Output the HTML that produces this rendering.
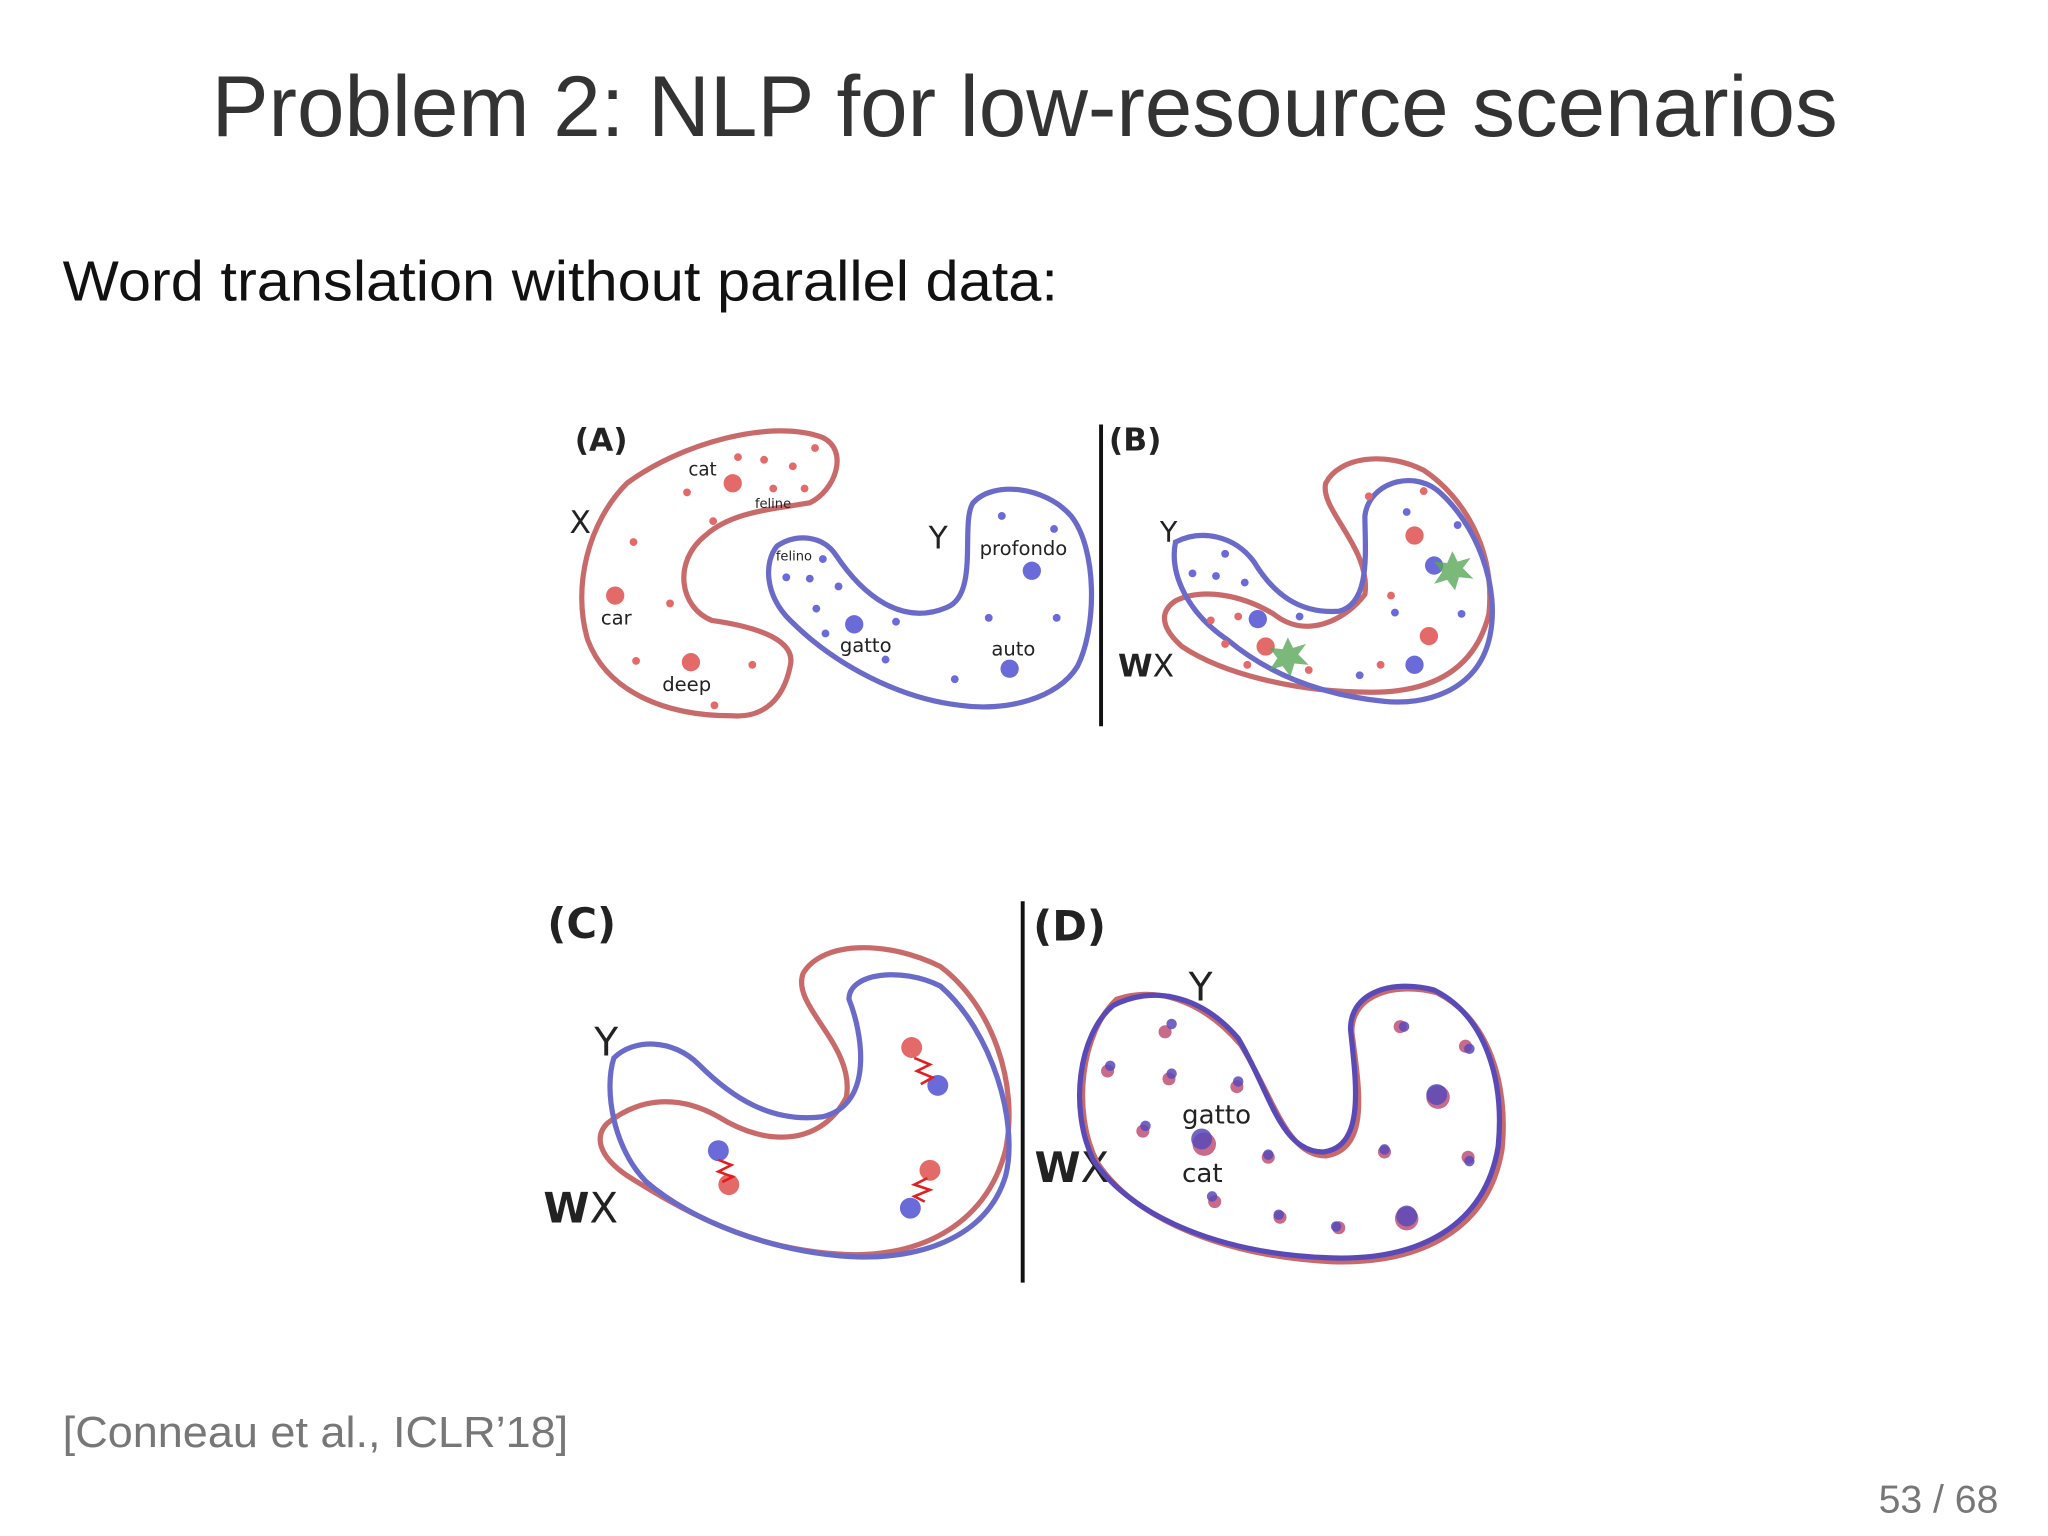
<!DOCTYPE html>
<html><head><meta charset="utf-8"><style>
html,body{margin:0;padding:0;background:#fff;}
svg{display:block}
</style></head><body>
<svg width="2048" height="1536" viewBox="0 0 1568 1176" xmlns="http://www.w3.org/2000/svg" font-family="Liberation Sans, DejaVu Sans, sans-serif">
<rect width="1568" height="1176" fill="#fff"/>
<text x="162" y="104" font-size="66" fill="#333" textLength="1245" lengthAdjust="spacingAndGlyphs">Problem 2: NLP for low-resource scenarios</text>
<text x="48" y="230" font-size="43" fill="#111" textLength="762" lengthAdjust="spacingAndGlyphs">Word translation without parallel data:</text>
<text x="48" y="1108" font-size="33" fill="#777" textLength="387" lengthAdjust="spacingAndGlyphs">[Conneau et al., ICLR’18]</text>
<text x="1530" y="1158" text-anchor="end" font-size="30" fill="#777">53 / 68</text>

<g font-family="DejaVu Sans, sans-serif" fill="#222">
<!-- Panel A -->
<text x="440" y="345" font-size="24" font-weight="bold">(A)</text>
<text x="436" y="408" font-size="24">X</text>
<path d="M480,370 C520,340 590,320 630,335 C650,345 640,375 620,385 C590,390 560,392 540,410 C515,430 520,465 545,475 C580,480 610,490 605,510 C600,535 585,550 560,548 C510,548 465,530 450,490 C438,450 450,400 480,370 Z" fill="none" stroke="#c86a6a" stroke-width="4"/>
<path d="M595,418 C610,408 630,410 640,425 C660,455 690,480 725,465 C750,455 735,400 745,385 C760,368 800,372 820,395 C840,420 840,480 825,510 C810,535 770,545 735,540 C690,535 640,510 605,475 C585,455 585,430 595,418 Z" fill="none" stroke="#6a6ac8" stroke-width="4"/>
<g fill="#e46a6a">
<circle cx="561" cy="370" r="7"/><circle cx="471" cy="456" r="7"/><circle cx="529" cy="507" r="7"/>
<circle cx="565" cy="350" r="3"/><circle cx="585" cy="352" r="3"/><circle cx="607" cy="357" r="3"/><circle cx="624" cy="343" r="3"/><circle cx="592" cy="374" r="3"/><circle cx="616" cy="374" r="3"/><circle cx="526" cy="377" r="3"/><circle cx="546" cy="399" r="3"/><circle cx="485" cy="415" r="3"/><circle cx="513" cy="462" r="3"/><circle cx="487" cy="506" r="3"/><circle cx="576" cy="509" r="3"/><circle cx="547" cy="540" r="3"/>
</g>
<g fill="#6a6ad8">
<circle cx="790" cy="437" r="7"/><circle cx="654" cy="478" r="7"/><circle cx="773" cy="512" r="7"/>
<circle cx="767" cy="395" r="3"/><circle cx="807" cy="405" r="3"/><circle cx="630" cy="428" r="3"/><circle cx="602" cy="442" r="3"/><circle cx="620" cy="443" r="3"/><circle cx="642" cy="449" r="3"/><circle cx="625" cy="466" r="3"/><circle cx="686" cy="476" r="3"/><circle cx="632" cy="485" r="3"/><circle cx="757" cy="473" r="3"/><circle cx="809" cy="473" r="3"/><circle cx="678" cy="505" r="3"/><circle cx="731" cy="520" r="3"/>
</g>
<text x="527" y="364" font-size="14">cat</text><text x="578" y="389" font-size="10">feline</text>
<text x="460" y="478" font-size="15">car</text><text x="507" y="529" font-size="15">deep</text>
<text x="594" y="429" font-size="10">felino</text><text x="711" y="420" font-size="24">Y</text>
<text x="750" y="425" font-size="15">profondo</text><text x="643" y="499" font-size="15">gatto</text><text x="759" y="502" font-size="15">auto</text>
<line x1="843" y1="325" x2="843" y2="556" stroke="#111" stroke-width="3"/>

<!-- Panel B -->
<text x="849" y="345" font-size="24" font-weight="bold">(B)</text>
<text x="888" y="415" font-size="22">Y</text>
<text x="856" y="518" font-size="24"><tspan font-weight="bold">W</tspan>X</text>
<path d="M900,460 C920,450 950,455 975,470 C1000,490 1030,475 1045,455 C1050,420 1010,390 1015,370 C1025,350 1060,345 1090,360 C1120,380 1145,420 1140,470 C1130,510 1100,530 1050,530 C990,530 935,515 905,495 C888,480 888,468 900,460 Z" fill="none" stroke="#c86a6a" stroke-width="4"/>
<path d="M900,415 C920,405 945,410 960,430 C975,455 995,470 1025,468 C1050,462 1045,420 1045,395 C1048,370 1080,360 1100,375 C1130,400 1150,450 1140,490 C1130,530 1090,540 1060,537 C1010,532 970,515 940,490 C910,470 895,440 900,415 Z" fill="none" stroke="#6a6ac8" stroke-width="4"/>
<g fill="#e46a6a"><circle cx="1083" cy="410" r="7"/><circle cx="1094" cy="487" r="7"/><circle cx="969" cy="495" r="7"/>
<circle cx="1048" cy="380" r="3"/><circle cx="1090" cy="376" r="3"/><circle cx="1065" cy="456" r="3"/><circle cx="927" cy="475" r="3"/><circle cx="948" cy="472" r="3"/><circle cx="938" cy="493" r="3"/><circle cx="955" cy="509" r="3"/><circle cx="1057" cy="509" r="3"/><circle cx="1002" cy="513" r="3"/></g>
<g fill="#6a6ad8"><circle cx="963" cy="474" r="7"/><circle cx="1098" cy="433" r="7"/><circle cx="1083" cy="509" r="7"/>
<circle cx="1077" cy="392" r="3"/><circle cx="1116" cy="402" r="3"/><circle cx="938" cy="424" r="3"/><circle cx="913" cy="439" r="3"/><circle cx="931" cy="441" r="3"/><circle cx="953" cy="446" r="3"/><circle cx="1068" cy="469" r="3"/><circle cx="1119" cy="470" r="3"/><circle cx="1041" cy="517" r="3"/><circle cx="995" cy="472" r="3"/></g>
<polygon points="1112,422 1116,430 1126,427 1120,435 1128,443 1117,442 1114,452 1108,444 1098,447 1104,438 1098,430 1108,431" fill="#5aa85a" opacity="0.8"/>
<polygon points="986,488 990,496 1000,493 994,501 1002,509 991,508 988,518 982,510 972,513 978,504 972,496 982,497" fill="#5aa85a" opacity="0.8"/>

<!-- Panel C -->
<text x="419" y="718" font-size="32" font-weight="bold">(C)</text>
<text x="455" y="808" font-size="30">Y</text>
<text x="416" y="936" font-size="32"><tspan font-weight="bold">W</tspan>X</text>
<path d="M465,860 C490,840 520,838 550,855 C590,880 630,875 648,840 C655,800 605,770 615,745 C630,720 680,720 720,740 C760,770 780,830 770,880 C755,940 700,965 640,960 C570,955 520,925 480,900 C458,885 455,870 465,860 Z" fill="none" stroke="#c86a6a" stroke-width="4"/>
<path d="M470,810 C485,795 515,795 535,815 C560,840 590,860 630,855 C670,845 660,790 650,765 C650,745 690,740 720,755 C760,790 780,860 770,900 C755,950 700,965 650,962 C590,958 530,935 495,905 C470,880 462,835 470,810 Z" fill="none" stroke="#6a6ac8" stroke-width="4"/>
<circle cx="698" cy="802" r="8" fill="#e46a6a"/><circle cx="718" cy="831" r="8" fill="#6a6ad8"/>
<circle cx="550" cy="881" r="8" fill="#6a6ad8"/><circle cx="558" cy="907" r="8" fill="#e46a6a"/>
<circle cx="712" cy="896" r="8" fill="#e46a6a"/><circle cx="697" cy="925" r="8" fill="#6a6ad8"/>
<polyline points="700,810 712,815 702,820 714,825 705,830" fill="none" stroke="#e02020" stroke-width="2"/>
<polyline points="550,888 560,892 550,897 561,901 553,905" fill="none" stroke="#e02020" stroke-width="2"/>
<polyline points="710,902 700,907 712,911 700,916 708,920" fill="none" stroke="#e02020" stroke-width="2"/>
<line x1="783" y1="690" x2="783" y2="982" stroke="#111" stroke-width="3"/>

<!-- Panel D -->
<text x="791" y="720" font-size="32" font-weight="bold">(D)</text>
<text x="910" y="766" font-size="30">Y</text>
<text x="792" y="905" font-size="32"><tspan font-weight="bold">W</tspan>X</text>
<path d="M855,765 C885,755 920,765 950,800 C975,840 985,885 1015,885 C1050,880 1040,830 1035,790 C1035,760 1070,752 1100,760 C1140,780 1155,830 1150,880 C1140,940 1090,968 1020,966 C940,962 870,935 840,890 C820,850 828,790 855,765 Z" fill="none" stroke="#c86a6a" stroke-width="4"/>
<path d="M852,770 C880,755 918,760 948,795 C972,835 980,882 1013,882 C1046,878 1038,828 1034,788 C1034,758 1068,750 1098,758 C1138,778 1152,828 1147,878 C1137,938 1087,966 1017,963 C937,960 867,933 837,888 C818,848 826,792 852,770 Z" fill="none" stroke="#5a4ab8" stroke-width="4"/>
<g fill="#c86a8a">
<circle cx="922" cy="876" r="9"/><circle cx="1101" cy="840" r="9"/><circle cx="1077" cy="933" r="9"/>
<circle cx="848" cy="820" r="5"/><circle cx="892" cy="790" r="5"/><circle cx="895" cy="826" r="5"/><circle cx="947" cy="832" r="5"/><circle cx="875" cy="866" r="5"/><circle cx="971" cy="886" r="5"/><circle cx="1060" cy="882" r="5"/><circle cx="1072" cy="786" r="5"/><circle cx="1122" cy="801" r="5"/><circle cx="1124" cy="886" r="5"/><circle cx="930" cy="920" r="5"/><circle cx="980" cy="932" r="5"/><circle cx="1025" cy="940" r="5"/>
</g>
<g fill="#5a4ab8" opacity="0.85">
<circle cx="920" cy="872" r="8"/><circle cx="1100" cy="838" r="8"/><circle cx="1077" cy="931" r="8"/>
<circle cx="850" cy="816" r="4"/><circle cx="897" cy="784" r="4"/><circle cx="897" cy="822" r="4"/><circle cx="948" cy="828" r="4"/><circle cx="877" cy="862" r="4"/><circle cx="971" cy="884" r="4"/><circle cx="1060" cy="880" r="4"/><circle cx="1075" cy="786" r="4"/><circle cx="1125" cy="803" r="4"/><circle cx="1125" cy="889" r="4"/><circle cx="928" cy="916" r="4"/><circle cx="979" cy="930" r="4"/><circle cx="1023" cy="939" r="4"/>
</g>
<text x="905" y="860" font-size="20">gatto</text><text x="905" y="905" font-size="20">cat</text>
</g>
</svg>
</body></html>
